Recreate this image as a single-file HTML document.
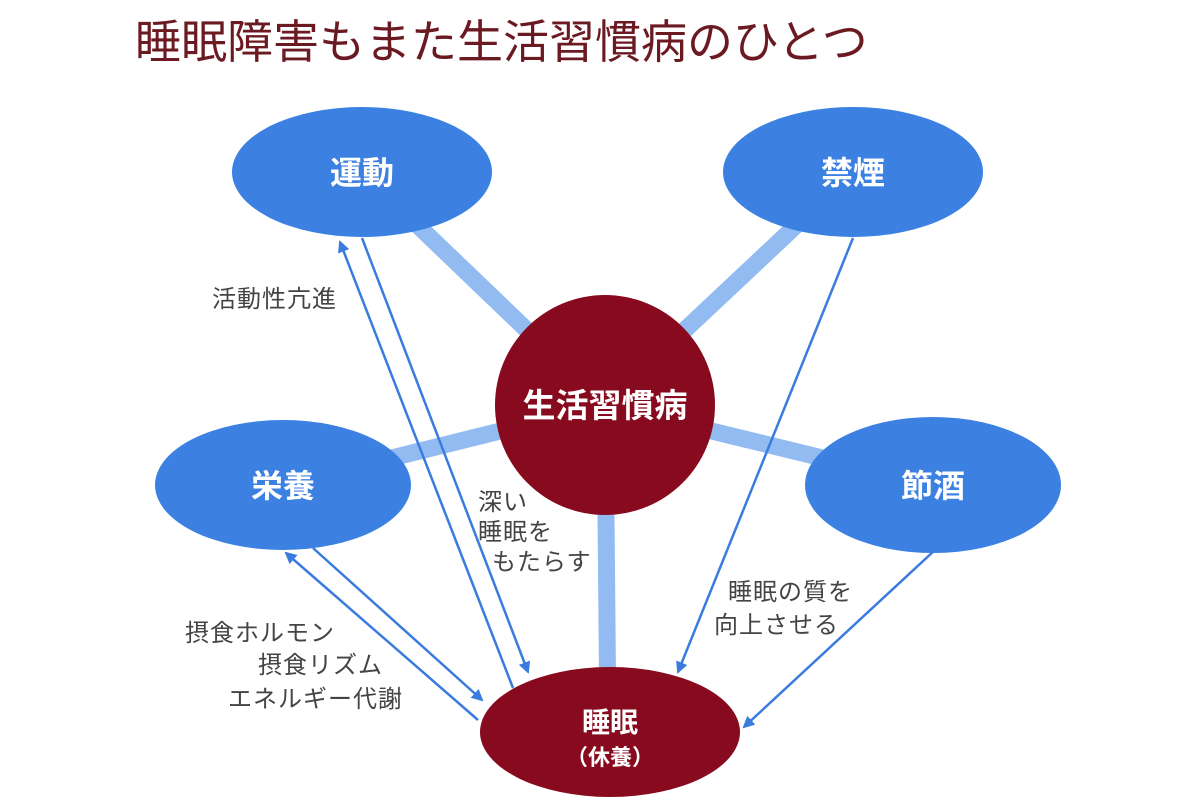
<!DOCTYPE html>
<html><head><meta charset="utf-8"><style>
html,body{margin:0;padding:0;background:#fff;}
svg{display:block;}
text{font-family:"Liberation Sans","Noto Sans CJK JP",sans-serif;}
</style></head><body>
<svg width="1200" height="800" viewBox="0 0 1200 800" xmlns="http://www.w3.org/2000/svg">
<defs>
<marker id="a" markerWidth="12" markerHeight="12" refX="10" refY="6" orient="auto" markerUnits="userSpaceOnUse">
<path d="M0,0 L12,6 L0,12 Z" fill="#3a7be0"/>
</marker>
</defs>
<text x="135" y="58" font-size="46" fill="#6b1a22">睡眠障害もまた生活習慣病のひとつ</text>
<g stroke="#92bbf2" stroke-width="17">
<line x1="605" y1="405" x2="362" y2="172"/>
<line x1="605" y1="405" x2="853" y2="172"/>
<line x1="605" y1="405" x2="283" y2="485"/>
<line x1="605" y1="405" x2="933" y2="485"/>
<line x1="605" y1="405" x2="608" y2="732"/>
</g>
<g fill="#3c81e2">
<ellipse cx="362" cy="172" rx="130" ry="65"/>
<ellipse cx="853" cy="172" rx="130" ry="65"/>
<ellipse cx="283" cy="485" rx="128" ry="65"/>
<ellipse cx="933" cy="485" rx="128" ry="68"/>
</g>
<g stroke="#3a7be0" stroke-width="2.5" fill="none" marker-end="url(#a)">
<line x1="362" y1="238" x2="528" y2="672"/>
<line x1="513" y1="688" x2="340" y2="242"/>
<line x1="853" y1="238" x2="678" y2="672"/>
<line x1="935" y1="550" x2="744" y2="727"/>
<line x1="313" y1="548" x2="482" y2="700"/>
<line x1="478" y1="720" x2="286" y2="553"/>
</g>
<circle cx="605" cy="405" r="110" fill="#870a1e"/>
<ellipse cx="610" cy="732" rx="130" ry="65" fill="#870a1e"/>
<g fill="#fff" font-size="32" text-anchor="middle" font-weight="bold">
<text x="362" y="184">運動</text>
<text x="853" y="184">禁煙</text>
<text x="283" y="497">栄養</text>
<text x="933" y="497">節酒</text>
<text x="605" y="417" font-size="33">生活習慣病</text>
<text x="610" y="732" font-size="28">睡眠</text>
<text x="610" y="765" font-size="22">（休養）</text>
</g>
<g fill="#444" font-size="24" letter-spacing="1">
<text x="212" y="307">活動性亢進</text>
<text x="478" y="510">深い</text>
<text x="478" y="540">睡眠を</text>
<text x="492" y="570">もたらす</text>
<text x="185" y="641">摂食ホルモン</text>
<text x="258" y="673">摂食リズム</text>
<text x="228" y="707">エネルギー代謝</text>
<text x="728" y="600">睡眠の質を</text>
<text x="714" y="633">向上させる</text>
</g>
</svg>
</body></html>
